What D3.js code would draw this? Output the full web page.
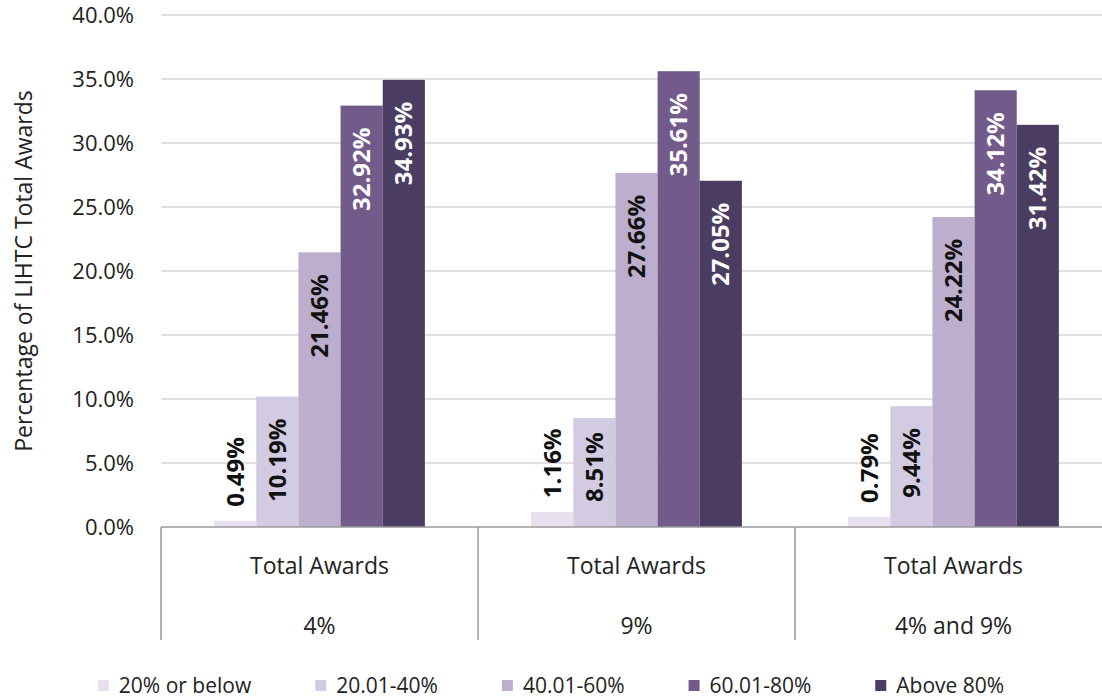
<!DOCTYPE html>
<html>
<head>
<meta charset="utf-8">
<script src="https://cdn.jsdelivr.net/npm/d3@7"></script>
<style>
  body { margin: 0; background: #fff; }
  text { font-family: "Open Sans", sans-serif; fill: #222; }
</style>
</head>
<body>
<svg id="chart" width="1102" height="700"></svg>
<script>
// data
var groups = ["4%", "9%", "4% and 9%"];
var seriesNames = ["20% or below", "20.01-40%", "40.01-60%", "60.01-80%", "Above 80%"];
var below20 = [0.49, 1.16, 0.79];
var from20to40 = [10.19, 8.51, 9.44];
var from40to60 = [21.46, 27.66, 24.22];
var from60to80 = [32.92, 35.61, 34.12];
var above80 = [34.93, 27.05, 31.42];
var yTicks = [0, 5, 10, 15, 20, 25, 30, 35, 40];

var seriesValues = [below20, from20to40, from40to60, from60to80, above80];
var colors = ["#e8e0ee", "#d3cbe1", "#bdaecd", "#725a8b", "#4b3c62"];
var labelColors = ["#111", "#111", "#111", "#fff", "#fff"];

var svg = d3.select("#chart"),
    plotLeft = 161, plotRight = 1112, plotTop = 15, plotBottom = 527;

var x0 = d3.scaleBand().domain(groups).range([plotLeft, plotRight]);
var x1 = d3.scaleBand().domain(seriesNames).range([0, x0.bandwidth()]).paddingOuter(1.26);
var y = d3.scaleLinear().domain([0, 40]).range([plotBottom, plotTop]);

// gridlines
svg.append("g").selectAll("line")
    .data(yTicks.slice(1))
    .enter().append("line")
    .attr("x1", plotLeft).attr("x2", plotRight)
    .attr("y1", function(d) { return y(d); })
    .attr("y2", function(d) { return y(d); })
    .attr("stroke", "#d6d6d6").attr("stroke-width", 1.5);

// y axis labels
var yAxis = svg.append("g")
    .attr("transform", "translate(" + (plotLeft - 27) + ",0)")
    .call(d3.axisLeft(y).tickValues(yTicks).tickSize(0).tickPadding(0)
        .tickFormat(function(d) { return d.toFixed(1) + "%"; }));
yAxis.select(".domain").remove();
yAxis.selectAll("text")
    .style("font-family", "Open Sans").style("font-size", "22px").attr("fill", "#222");

svg.append("text")
    .attr("transform", "translate(32," + ((plotTop + plotBottom) / 2) + ") rotate(-90)")
    .attr("text-anchor", "middle")
    .style("font-size", "23px")
    .text("Percentage of LIHTC Total Awards");

// bars
var rows = [];
seriesValues.forEach(function(vals, si) {
    vals.forEach(function(v, gi) {
        rows.push({ group: groups[gi], series: seriesNames[si], si: si, value: v });
    });
});

svg.append("g").selectAll("rect")
    .data(rows)
    .enter().append("rect")
    .attr("x", function(d) { return x0(d.group) + x1(d.series); })
    .attr("y", function(d) { return y(d.value); })
    .attr("width", x1.bandwidth())
    .attr("height", function(d) { return plotBottom - y(d.value); })
    .attr("fill", function(d) { return colors[d.si]; });

// axis line and category dividers
svg.append("line")
    .attr("x1", plotLeft).attr("x2", plotRight).attr("y1", plotBottom).attr("y2", plotBottom)
    .attr("stroke", "#9a9a9a").attr("stroke-width", 1.5);

var dividers = groups.map(function(g) { return x0(g); }).concat([plotRight]);
svg.append("g").selectAll("line")
    .data(dividers)
    .enter().append("line")
    .attr("x1", function(d) { return d; }).attr("x2", function(d) { return d; })
    .attr("y1", plotBottom).attr("y2", 640)
    .attr("stroke", "#9a9a9a").attr("stroke-width", 1.5);

var cat = svg.append("g").selectAll("g")
    .data(groups)
    .enter().append("g")
    .attr("transform", function(d) { return "translate(" + (x0(d) + x0.bandwidth() / 2) + ",0)"; });
cat.append("text")
    .attr("y", 574).attr("text-anchor", "middle").style("font-size", "23px")
    .text("Total Awards");
cat.append("text")
    .attr("y", 634).attr("text-anchor", "middle").style("font-size", "23px")
    .text(function(d) { return d; });

// value labels, rotated
var labels = svg.append("g").selectAll("text")
    .data(rows)
    .enter().append("text")
    .style("font-size", "24px").style("font-weight", "bold")
    .attr("dy", "0.36em")
    .text(function(d) { return d.value.toFixed(2) + "%"; });

labels.each(function(d) {
    var t = d3.select(this),
        len = this.getComputedTextLength(),
        cx = x0(d.group) + x1(d.series) + x1.bandwidth() / 2,
        barTop = y(d.value),
        inside = (plotBottom - barTop) > len + 30,
        lo;
    if (inside) {
        lo = Math.min(barTop + 22 + len, plotBottom - 25);
        t.style("fill", labelColors[d.si]);
    } else {
        lo = barTop - 14;
        t.style("fill", "#111");
    }
    t.attr("text-anchor", "start")
     .attr("transform", "translate(" + cx + "," + lo + ") rotate(-90)");
});

// legend
var legend = svg.append("g").attr("transform", "translate(0,686)");
var items = legend.selectAll("g")
    .data(seriesNames)
    .enter().append("g");
items.append("rect")
    .attr("y", -6).attr("width", 11).attr("height", 11)
    .attr("fill", function(d, i) { return colors[i]; });
items.append("text")
    .attr("x", 21).attr("y", 0).attr("dy", "0.34em")
    .style("font-size", "21px")
    .text(function(d) { return d; });

var gap = 64, pos = 0, offsets = [];
items.each(function() {
    offsets.push(pos);
    pos += 21 + d3.select(this).select("text").node().getComputedTextLength() + gap;
});
var total = pos - gap, start = (1102 - total) / 2;
items.attr("transform", function(d, i) { return "translate(" + (start + offsets[i]) + ",0)"; });
</script>
</body>
</html>
